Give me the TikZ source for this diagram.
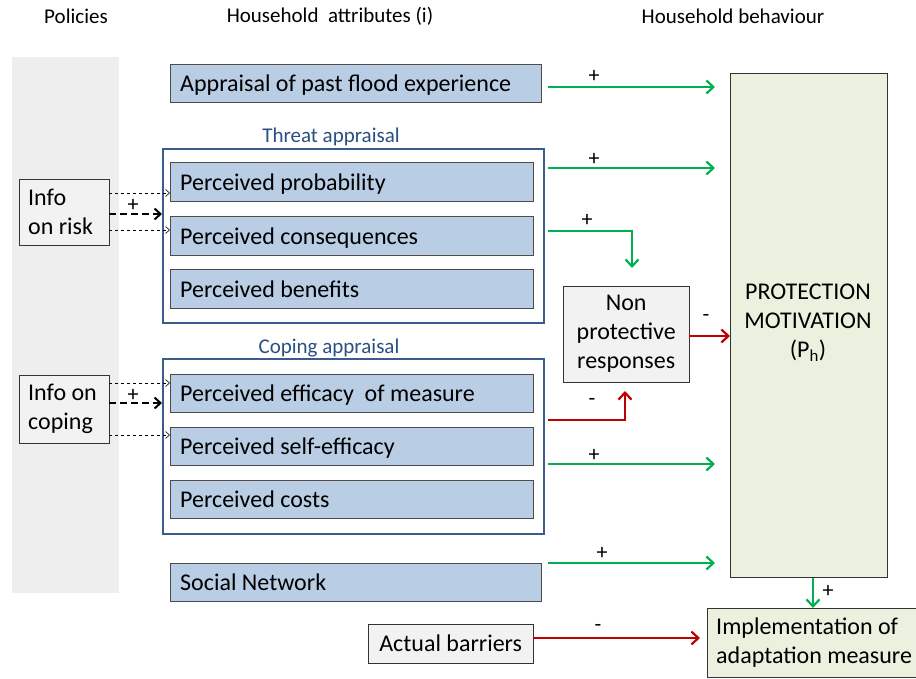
\documentclass[tikz,border=0pt]{standalone}
\usepackage{fontspec}
\setmainfont{Carlito}
\usetikzlibrary{arrows.meta}
\definecolor{bluebox}{RGB}{185,205,229}
\definecolor{frameblue}{RGB}{56,93,138}
\definecolor{labblue}{RGB}{42,80,130}
\definecolor{bggray}{RGB}{238,238,238}
\definecolor{boxgray}{RGB}{242,242,242}
\definecolor{pmfill}{RGB}{235,241,222}
\definecolor{grn}{RGB}{0,176,80}
\definecolor{rd}{RGB}{192,0,0}
\tikzset{
  every node/.style={execute at begin node={\spaceskip=0pt\xspaceskip=0pt\relax}},
  attr/.style={draw=black!70, fill=bluebox, anchor=north west, inner xsep=10pt, align=left,
    font=\fontsize{24}{29}\selectfont, text depth=0pt},
  plain/.style={draw=black!80, fill=boxgray, anchor=north west, font=\fontsize{24}{29}\selectfont},
  frame/.style={draw=frameblue, line width=1.6pt, anchor=north west, inner sep=0pt},
  hdr/.style={font=\fontsize{21}{25}\selectfont},
  sign/.style={font=\fontsize{22}{26}\selectfont},
  gar/.style={draw=grn, line width=2.4pt, -{Straight Barb[length=7pt,width=13pt,line width=2.2pt]}},
  rar/.style={draw=rd, line width=2.4pt, -{Straight Barb[length=7pt,width=13pt,line width=2.2pt]}},
  thin/.style={dashed, line width=0.6pt, -{Straight Barb[length=4pt,width=7pt]}},
  thick/.style={dash pattern=on 7pt off 4pt, line width=2pt, -{Straight Barb[length=6pt,width=11pt,line width=2pt]}},
}
\begin{document}
\begin{tikzpicture}[x=1pt,y=-1pt]
\useasboundingbox (0,0) rectangle (916,678);
% background policies
\fill[bggray] (12,57) rectangle (119,593);
% headers
\node[hdr] (hpol) at (76,16) {Policies};
\node[hdr] (hatt) at (330,16) {Household\ \ attributes (i)};
\node[hdr] (hbeh) at (733,16) {Household behaviour};
% frames
\node[frame, minimum width=381pt, minimum height=174pt] (tframe) at (162,148) {};
\node[frame, minimum width=381pt, minimum height=175pt] (cframe) at (162,358) {};
\node[hdr, text=labblue] (tlab) at (331,137) {Threat appraisal};
\node[hdr, text=labblue] (clab) at (329,348) {Coping appraisal};
% attribute boxes
\node[attr, minimum width=371pt, minimum height=38pt, text width=351pt] (app) at (170,64) {Appraisal of past flood experience};
\node[attr, minimum width=363pt, minimum height=39pt, text width=343pt] (prob) at (170,162) {Perceived probability};
\node[attr, minimum width=363pt, minimum height=39pt, text width=343pt] (cons) at (170,216) {Perceived consequences};
\node[attr, minimum width=363pt, minimum height=39pt, text width=343pt] (ben) at (170,269) {Perceived benefits};
\node[attr, minimum width=363pt, minimum height=38pt, text width=343pt] (eff) at (170,374) {Perceived efficacy\ \ of measure};
\node[attr, minimum width=363pt, minimum height=38pt, text width=343pt] (self) at (170,427) {Perceived self-efficacy};
\node[attr, minimum width=363pt, minimum height=38pt, text width=343pt] (cost) at (170,480) {Perceived costs};
\node[attr, minimum width=371pt, minimum height=38pt, text width=351pt] (soc) at (170,563) {Social Network};
% other boxes
\node[plain, minimum width=165pt, minimum height=39pt, inner sep=2pt] (bar) at (368,624) {Actual barriers};
\node[plain, minimum width=90pt, minimum height=66pt, inner xsep=9pt, inner ysep=2pt, text width=72pt, align=left] (irisk) at (19,179) {Info\\on risk};
\node[plain, minimum width=90pt, minimum height=68pt, inner xsep=9pt, inner ysep=2pt, text width=72pt, align=left] (icop) at (19,375) {Info on\\coping};
\node[plain, minimum width=126pt, minimum height=96pt, inner sep=2pt, align=center] (non) at (563,286) {Non\\protective\\responses};
\node[plain, fill=pmfill, minimum width=157pt, minimum height=504pt, align=center] (pm) at (730,73) {};
\node[font=\fontsize{24}{29}\selectfont, align=center] (pmt) at (808,323) {PROTECTION\\MOTIVATION\\(P\textsubscript{h})};
\node[plain, fill=pmfill, minimum width=209pt, minimum height=69pt] (impl) at (707,608) {};
\node[font=\fontsize{24}{29}\selectfont, align=left, anchor=west, inner sep=0pt] (implt) at (716,643) {Implementation of\\adaptation measure};
% coordinates
\coordinate (a1s) at (548,87);  \coordinate (a1e) at (715,87);
\coordinate (a2s) at (548,168); \coordinate (a2e) at (715,168);
\coordinate (a3s) at (548,231); \coordinate (a3k) at (632,231); \coordinate (a3e) at (632,268);
\coordinate (a4s) at (548,420); \coordinate (a4k) at (625,420); \coordinate (a4e) at (625,391);
\coordinate (a5s) at (548,464); \coordinate (a5e) at (715,464);
\coordinate (a6s) at (548,563); \coordinate (a6e) at (715,563);
% green / red arrows
\draw[gar] (a1s) -- (a1e);
\draw[gar] (a2s) -- (a2e);
\draw[gar] (a3s) -- (a3k) -- (a3e);
\draw[rar] (a4s) -- (a4k) -- (a4e);
\draw[gar] (a5s) -- (a5e);
\draw[gar] (a6s) -- (a6e);
\draw[rar] (non.east |- 0,336) -- (pm.west |- 0,336);
\draw[gar] (813,578) -- (impl.north -| 813,0);
\draw[rar] (bar.east |- 0,638) -- (700,638);
% signs
\node[sign] at (594,76) {+};
\node[sign] at (594,159) {+};
\node[sign] at (587,220) {+};
\node[sign] at (592,402) {-};
\node[sign] at (706,318) {-};
\node[sign] at (594,455) {+};
\node[sign] at (602,553) {+};
\node[sign] at (828,591) {+};
\node[sign] at (598,628) {-};
% policy dashed arrows
\draw[thin] (irisk.east |- 0,193) -- (prob.west |- 0,193);
\draw[thick] (irisk.east |- 0,214) -- (tframe.west |- 0,214);
\draw[thin] (irisk.east |- 0,230) -- (cons.west |- 0,230);
\node[sign] at (133,205) {+};
\draw[thin] (icop.east |- 0,383) -- (eff.west |- 0,383);
\draw[thick] (icop.east |- 0,403) -- (cframe.west |- 0,403);
\draw[thin] (icop.east |- 0,435) -- (self.west |- 0,435);
\node[sign] at (133,395) {+};
\end{tikzpicture}
\end{document}
